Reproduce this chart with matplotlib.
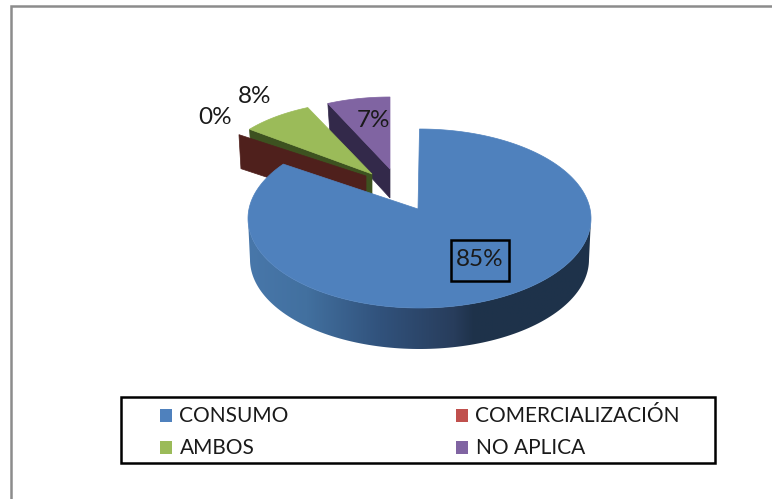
import numpy as np
import matplotlib
matplotlib.use("Agg")
import matplotlib.pyplot as plt
from matplotlib.colors import LinearSegmentedColormap
from matplotlib.patches import Polygon, Rectangle

plt.rcParams["font.family"] = ["Lato", "DejaVu Sans"]

# datos
categorias = ["CONSUMO", "COMERCIALIZACIÓN", "AMBOS", "NO APLICA"]
valores = [85.4, 0.1, 7.7, 6.8]

colores = ["#4f81bd", "#c0504d", "#9bbb59", "#8064a2"]
paredes = ["#1e334b", "#4f201c", "#3d5220", "#33294a"]

W, H = 772, 499


def angulos(vals):
    # angulo acumulado en sentido horario desde las 12
    acum = np.cumsum([0] + list(vals))
    return acum / acum[-1] * 360


def punto(c, rx, ry, t):
    t = np.radians(t)
    return np.column_stack([c[0] + rx * np.sin(t), c[1] - ry * np.cos(t)])


def cara(ax, apice, centro, rx, ry, t0, t1, color):
    arco = punto(centro, rx, ry, np.linspace(t0, t1, 80))
    pts = np.vstack([apice, arco])
    ax.add_patch(Polygon(pts, closed=True, fc=color, ec=color, lw=0.5))


def pared(ax, apice, centro, rx, ry, t, prof, color):
    p = punto(centro, rx, ry, [t])[0]
    pts = [p, apice, (apice[0], apice[1] + prof), (p[0] + 2, p[1] + prof)]
    ax.add_patch(Polygon(pts, closed=True, fc=color, ec=color, lw=0.5))


fig = plt.figure(figsize=(W / 100, H / 100), dpi=100)
ax = fig.add_axes([0, 0, 1, 1])

# marco exterior
ax.plot([10.5, 10.5, W], [H, 5.5, 5.5], color="#8c8c8c", lw=1.8, solid_joinstyle="miter")

ang = angulos(valores)

# NO APLICA
ap = (390, 169)
pared(ax, ap, ap, 150, 72, ang[3], 29, paredes[3])
cara(ax, ap, ap, 150, 72, ang[3], ang[4], colores[3])

# AMBOS
ap = (372, 174)
pared(ax, ap, ap, 155, 73, ang[2], 29, paredes[2])

# COMERCIALIZACION (solo se ve la pared)
ap = (366, 176)
pared(ax, ap, ap, 160, 68, ang[1], 34, paredes[1])

ap = (372, 174)
cara(ax, ap, ap, 155, 73, ang[2], ang[3], colores[2])

# CONSUMO: pared con degradado y cara superior
centro = (419.5, 218.5)
rx, ry = 171.5, 89.5
arriba = punto(centro, rx, ry, np.linspace(90, 270, 120))
abajo = punto((centro[0], centro[1] + 41), rx - 2, ry, np.linspace(270, 90, 120))
muro = Polygon(np.vstack([arriba, abajo]), closed=True, fc="none", ec="none")
ax.add_patch(muro)
cmap = LinearSegmentedColormap.from_list(
    "muro",
    [(0.0, "#4877aa"), (0.17, "#42709f"), (0.385, "#31527c"),
     (0.6, "#283d5c"), (0.66, "#1e324a"), (1.0, "#1e334b")],
)
im = ax.imshow(np.linspace(0, 1, 256)[None, :], cmap=cmap, aspect="auto",
               extent=(248, 591, 360, 200), zorder=1.5)
im.set_clip_path(muro)
ap = (418, 209)
arco = punto(centro, rx, ry, np.linspace(ang[0], ang[1], 300))
ax.add_patch(Polygon(np.vstack([ap, arco]), closed=True, fc=colores[0], ec=colores[0],
                     lw=0.5, zorder=2))

# etiquetas de datos
pos_etiquetas = [(479.5, 260), (215, 117), (255, 96), (373, 120)]
for v, (x, y) in zip(valores, pos_etiquetas):
    ax.text(x, y, f"{v:.0f}%", fontsize=17.5, color="#1a1a1a", ha="center", va="center", zorder=4)
ax.add_patch(Rectangle((450.5, 239.5), 58, 41, fc="none", ec="black", lw=1.8, zorder=4))

# leyenda
ax.add_patch(Rectangle((121, 397), 594, 66, fc="white", ec="black", lw=1.8, zorder=3))
pos_leyenda = [(160, 409), (456, 409), (160, 441), (456, 441)]
for nombre, color, (x, y) in zip(categorias, colores, pos_leyenda):
    ax.add_patch(Rectangle((x, y), 12, 13, fc=color, ec="none", zorder=4))
    ax.text(x + 19.5, y + 6.5, nombre, fontsize=15, color="#1a1a1a", ha="left",
            va="center", zorder=4)

ax.set_xlim(0, W)
ax.set_ylim(H, 0)
ax.axis("off")
fig.savefig("out.png", dpi=100, facecolor="white")
